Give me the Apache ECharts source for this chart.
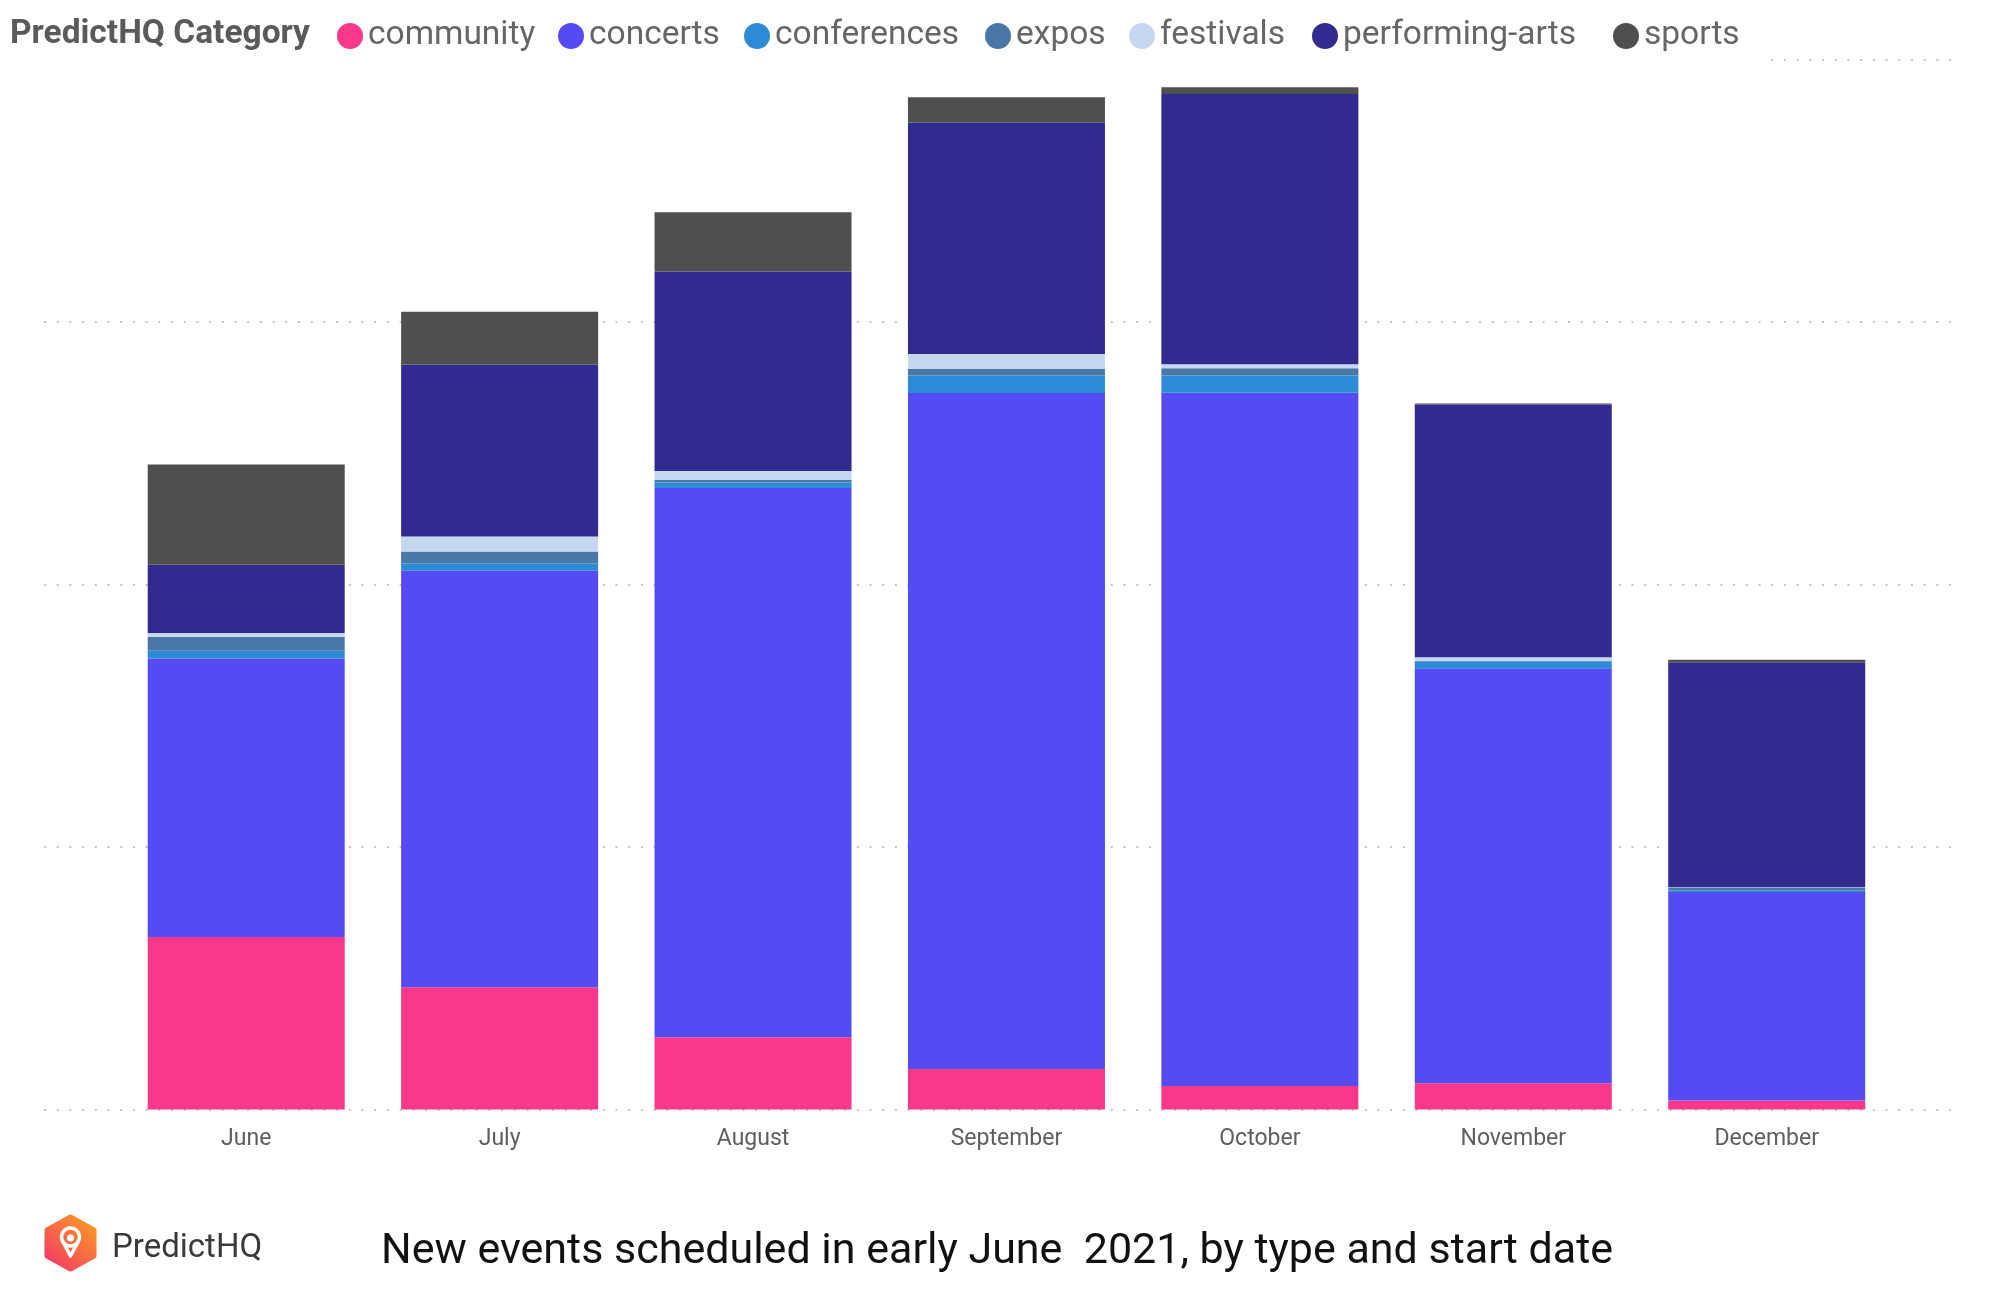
<!DOCTYPE html>
<html><head><meta charset="utf-8">
<script src="https://cdn.jsdelivr.net/npm/echarts@6/dist/echarts.min.js"></script>
<style>html,body{margin:0;padding:0;background:#fff}#c{width:1992px;height:1300px}</style>
</head><body><div id="c"></div>
<script>
const categories = ['June','July','August','September','October','November','December'];
const seriesNames = ['community','concerts','conferences','expos','festivals','performing-arts','sports'];
const community      = [65.7, 46.6, 27.5, 15.4, 9.0, 10.0, 3.4];
const concerts       = [106.1, 158.7, 209.3, 257.6, 264.1, 158.1, 79.5];
const conferences    = [3.0, 2.7, 2.1, 6.7, 6.6, 2.6, 0.6];
const expos          = [5.3, 4.6, 1.0, 2.5, 2.7, 0.3, 1.0];
const festivals      = [1.5, 5.7, 3.4, 5.7, 1.6, 1.3, 0.2];
const performingArts = [26.0, 65.6, 76.0, 88.2, 102.9, 96.3, 85.7];
const sports         = [38.2, 20.1, 22.6, 9.6, 2.6, 0.4, 1.0];
const seriesData = [community, concerts, conferences, expos, festivals, performingArts, sports];
const seriesColors = ['#F8388A', '#544CF2', '#2B8CD5', '#4A78A6', '#C5D7EE', '#312A8F', '#4F4F4F'];
const legendLefts = [337, 558, 744, 985, 1129, 1312, 1613];

const chart = echarts.init(document.getElementById('c'), null, {renderer: 'canvas'});
const FONT = 'Roboto';
const grad = () => new echarts.graphic.LinearGradient(0, 1, 1, 0, [{offset: 0, color: '#F2306F'}, {offset: 1, color: '#FBA51B'}]);
const option = {
  animation: false,
  backgroundColor: '#ffffff',
  title: {
    text: 'PredictHQ Category', left: 10, top: 18, padding: 0,
    textStyle: {fontFamily: FONT, fontSize: 33.5, fontWeight: 'bold', color: '#5a5a5a'}
  },
  legend: seriesNames.map((n, i) => ({
    data: [n], left: legendLefts[i], top: 19, padding: 0,
    itemWidth: 26, itemHeight: 26, icon: 'circle', selectedMode: false,
    textStyle: {fontFamily: FONT, fontSize: 33.5, color: '#666666'}
  })),
  grid: [
    {left: 44, right: 36, top: 59.7, bottom: 190.5},
    {left: 119.5, right: 98.6, top: 59.7, bottom: 190.5}
  ],
  xAxis: [
    {gridIndex: 0, type: 'category', data: [''], show: false},
    {gridIndex: 1, type: 'category', data: categories,
      axisLine: {show: false}, axisTick: {show: false},
      axisLabel: {fontFamily: FONT, fontSize: 23, color: '#605E5C', margin: 18}}
  ],
  yAxis: [
    {gridIndex: 0, type: 'value', min: 0, max: 400, interval: 100,
      axisLabel: {show: false}, axisLine: {show: false}, axisTick: {show: false},
      splitLine: {show: true, lineStyle: {color: '#c6c6c6', width: 2, type: [2, 10.7]}}},
    {gridIndex: 1, type: 'value', min: 0, max: 400, interval: 100, show: false,
      splitLine: {show: false}}
  ],
  series: seriesNames.map((n, i) => ({
    name: n, type: 'bar', stack: 'total', xAxisIndex: 1, yAxisIndex: 1,
    barWidth: 197, data: seriesData[i], itemStyle: {color: seriesColors[i]}
  })),
  graphic: [
    {type: 'rect', z: 100, shape: {x: 0, y: 52, width: 1765, height: 14}, style: {fill: '#ffffff'}},
    {type: 'polygon', z: 100,
      shape: {points: [[70.5,1217],[94,1230],[94,1256],[70.5,1269],[47,1256],[47,1230]]},
      style: {fill: grad(), stroke: grad(), lineWidth: 5, lineJoin: 'round'}},
    {type: 'circle', z: 101, shape: {cx: 70.5, cy: 1237, r: 9}, style: {fill: 'none', stroke: '#ffffff', lineWidth: 3.5}},
    {type: 'polyline', z: 101, shape: {points: [[62.5,1241],[70.5,1256],[78.5,1241]]}, style: {fill: 'none', stroke: '#ffffff', lineWidth: 3.5, lineJoin: 'round'}},
    {type: 'circle', z: 101, shape: {cx: 70.5, cy: 1238, r: 3.5}, style: {fill: '#ffffff'}},
    {type: 'text', z: 101, x: 112, y: 1249,
      style: {text: 'PredictHQ', fontFamily: FONT, fontSize: 33, fill: '#3a3a3a', verticalAlign: 'middle'}},
    {type: 'text', z: 101, x: 381, y: 1252,
      style: {text: 'New events scheduled in early June  2021, by type and start date', fontFamily: FONT, fontSize: 43, fill: '#111111', verticalAlign: 'middle'}}
  ]
};
chart.setOption(option);
</script>
</body></html>
